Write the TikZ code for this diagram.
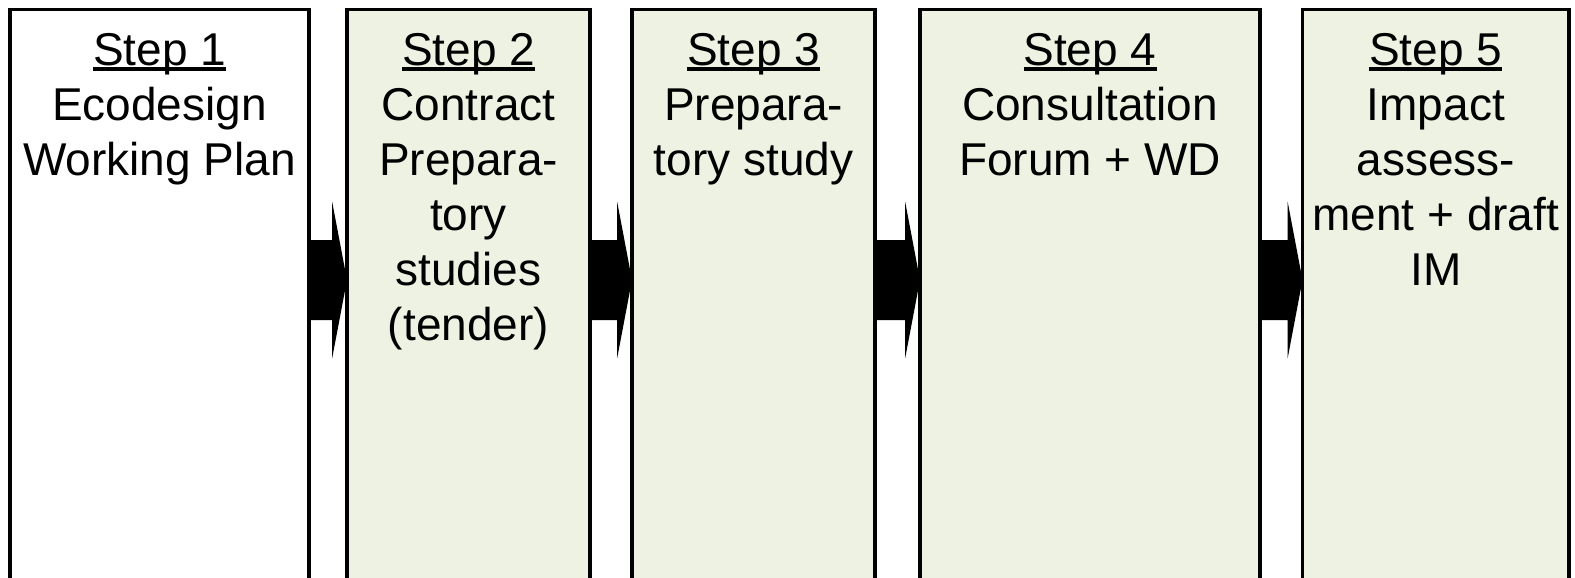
\documentclass[tikz,border=0pt]{standalone}
\usepackage{fontspec}
\setmainfont{Liberation Sans}
\usetikzlibrary{calc,positioning}
\definecolor{stepgreen}{RGB}{238,242,227}
\tikzstyle{stepbox} = [draw, line width=1.9pt,
	fill=stepgreen,
	minimum height=300pt,
	inner sep=0pt, outer sep=0pt]
\tikzstyle{steptext} = [align=center, inner sep=0pt, outer sep=0pt,
	font=\fontsize{23pt}{27.5pt}\selectfont]
\newcommand{\stepul}[1]{\setbox0\hbox{#1}\rlap{\rule[-0.11em]{\wd0}{0.075em}}\box0}
\newcommand{\steparrow}[2]{\fill ($(#1.north east)+(0,-115.25pt)$) -- ($(#2.north west)+(-7.4pt,-115.25pt)$)
	-- ($(#2.north west)+(-7.4pt,-96.25pt)$) -- ($(#2.north west)+(0,-135.25pt)$)
	-- ($(#2.north west)+(-7.4pt,-174.25pt)$) -- ($(#2.north west)+(-7.4pt,-155.25pt)$)
	-- ($(#1.north east)+(0,-155.25pt)$) -- cycle}

\begin{document}
\begin{tikzpicture}
	\useasboundingbox (0,0) rectangle (787.5pt,-289pt);
	\clip (0,0) rectangle (787.5pt,-289pt);
	
	\node (s1) [stepbox, fill=white, minimum width=149.5pt, anchor=north west] at (5pt,-4.75pt) {};
	\node (s2) [stepbox, minimum width=121.5pt, right=19pt of s1] {};
	\node (s3) [stepbox, minimum width=121.5pt, right=21pt of s2] {};
	\node (s4) [stepbox, minimum width=170pt, right=22.5pt of s3] {};
	\node (s5) [stepbox, minimum width=133.25pt, right=21.25pt of s4] {};
	
	\steparrow{s1}{s2};
	\steparrow{s2}{s3};
	\steparrow{s3}{s4};
	\steparrow{s4}{s5};
	
	\node (t1) [steptext, below=12pt of s1.north] {\stepul{Step 1}\\Ecodesign\\Working Plan};
	\node (t2) [steptext, below=12pt of s2.north] {\stepul{Step 2}\\Contract\\Prepara-\\tory\\studies\\(tender)};
	\node (t3) [steptext, below=12pt of s3.north] {\stepul{Step 3}\\Prepara-\\tory study};
	\node (t4) [steptext, below=12pt of s4.north] {\stepul{Step 4}\\Consultation\\Forum + WD};
	\node (t5) [steptext, below=12pt of s5.north] {\stepul{Step 5}\\Impact\\assess-\\ment + draft\\IM};
\end{tikzpicture}
\end{document}
